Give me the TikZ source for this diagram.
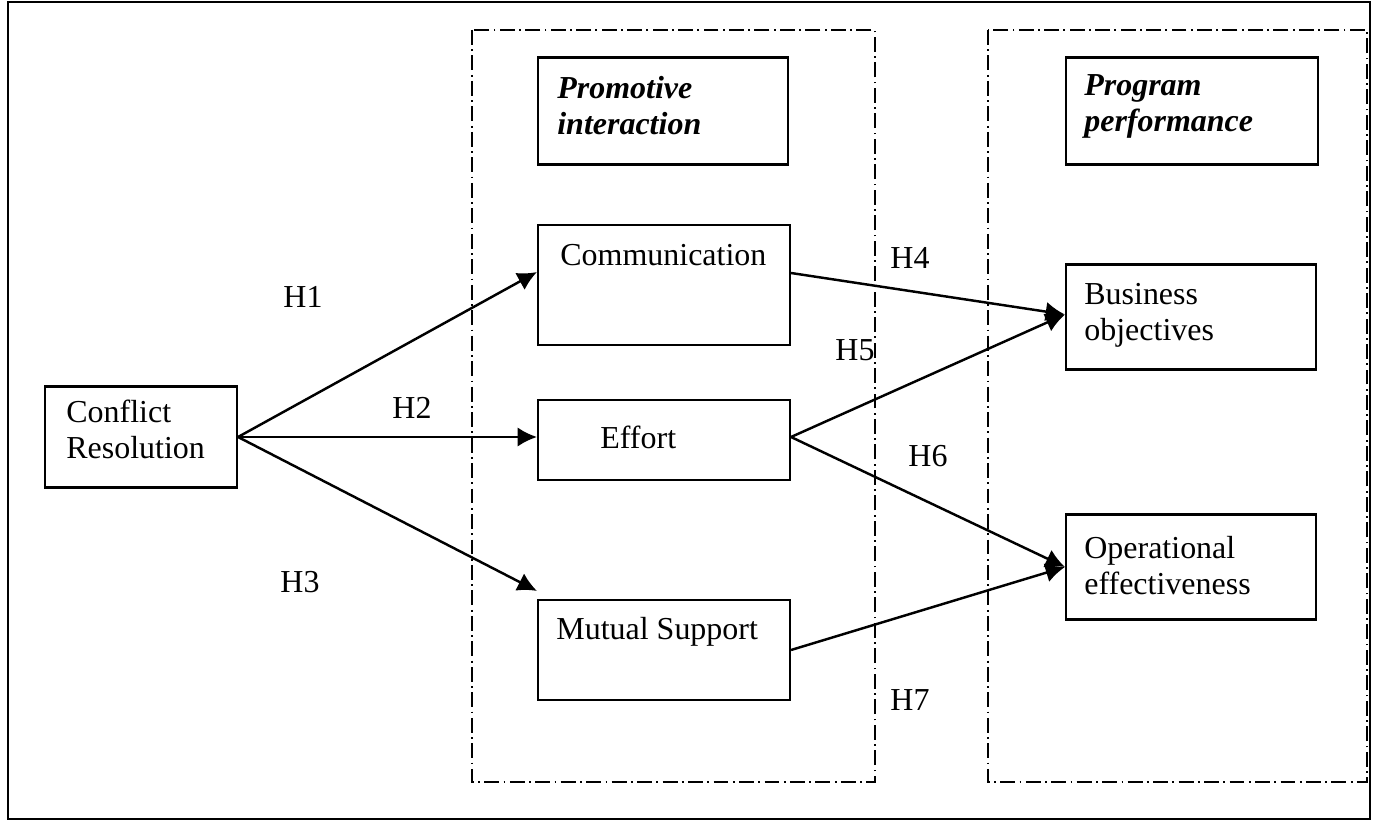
\documentclass[tikz,border=0pt]{standalone}
\usepackage{fontspec}
\setmainfont{Liberation Serif}
\usetikzlibrary{arrows.meta,positioning}

\begin{document}
\begin{tikzpicture}[x=0.02cm,y=-0.02cm,
	box/.style={draw,line width=1.2pt,inner sep=0pt},
	txt/.style={anchor=west,align=left,inner sep=0pt,font=\fontsize{18.2}{20.5}\selectfont},
	head/.style={txt,font=\fontsize{18.2}{20.5}\selectfont\bfseries\itshape},
	group/.style={draw,line width=1.2pt,dash pattern=on 8.5pt off 2.5pt on 1pt off 2.5pt},
	link/.style={line width=1.4pt,-{Latex[length=11pt,width=11pt]}}]
	
	\useasboundingbox (0,0) rectangle (1374,821);
	% Outer frame
	\draw[line width=1.2pt] (8,2) rectangle (1370,819);
	
	% The two dash-dotted groups
	\draw[group] (472,30) rectangle (875,782);
	\draw[group] (988,30) rectangle (1367,782);
	
	% Group headings
	\node[box,minimum width=5cm,minimum height=2.14cm] (prom) at (663,111) {};
	\node[head] (promtxt) at (557,106) {Promotive\\interaction};
	\node[box,minimum width=5.04cm,minimum height=2.14cm] (prog) at (1192,111) {};
	\node[head] (progtxt) at (1084,106) {Program\\performance};
	
	% The independent variable
	\node[box,minimum width=3.84cm,minimum height=2.02cm] (conf) at (141,437) {};
	\node[txt] (conftxt) at (66,429) {Conflict\\Resolution};
	
	% Promotive interaction
	\node[box,minimum width=5.04cm,minimum height=2.4cm] (comm) at (664,285) {};
	\node[txt] (commtxt) at (560,255) {Communication};
	\node[box,minimum width=5.04cm,minimum height=1.6cm] (effort) at (664,440) {};
	\node[txt] (efforttxt) at (600,437) {Effort};
	\node[box,minimum width=5.04cm,minimum height=2cm] (mutual) at (664,650) {};
	\node[txt] (mutualtxt) at (556,632) {Mutual Support};
	
	% Program performance
	\node[box,minimum width=5cm,minimum height=2.1cm] (bus) at (1191,317) {};
	\node[txt] (bustxt) at (1084,315) {Business\\objectives};
	\node[box,minimum width=5cm,minimum height=2.1cm] (oper) at (1191,567) {};
	\node[txt] (opertxt) at (1084,566) {Operational\\effectiveness};
	
	% Hypotheses
	\draw[link] (conf.east) -- ([yshift=0.26cm]comm.west);
	\draw[link] (conf.east) -- (conf.east -| effort.west);
	\draw[link] (conf.east) -- ([yshift=0.16cm]mutual.north west);
	\draw[link] ([yshift=0.24cm]comm.east) -- ([yshift=0.05cm]bus.west);
	\draw[link] ([yshift=0.06cm]effort.east) -- ([yshift=0.05cm]bus.west);
	\draw[link] ([yshift=0.06cm]effort.east) -- (oper.west);
	\draw[link] (mutual.east) -- (oper.west);
	
	\node[txt,anchor=center] (h1) at (303,297) {H1};
	\node[txt,anchor=center] (h2) at (412,408) {H2};
	\node[txt,anchor=center] (h3) at (300,582) {H3};
	\node[txt,anchor=center] (h4) at (910,258) {H4};
	\node[txt,anchor=center] (h5) at (855,350) {H5};
	\node[txt,anchor=center] (h6) at (928,456) {H6};
	\node[txt,anchor=center] (h7) at (910,700) {H7};
	
\end{tikzpicture}
\end{document}
